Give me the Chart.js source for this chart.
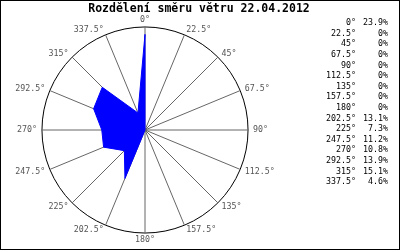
<!DOCTYPE html>
<html>
<head>
<meta charset="utf-8">
<script src="https://cdn.jsdelivr.net/npm/chart.js@4/dist/chart.umd.min.js"></script>
<style>
  html, body { margin: 0; padding: 0; background: #fff; }
  #wrap { width: 400px; height: 250px; position: relative; }
</style>
</head>
<body>
<div id="wrap"><canvas id="c" width="400" height="250"></canvas></div>
<script>
const titleText = 'Rozdělení směru větru 22.04.2012';
const directions = ['0°', '22.5°', '45°', '67.5°', '90°', '112.5°', '135°', '157.5°',
                    '180°', '202.5°', '225°', '247.5°', '270°', '292.5°', '315°', '337.5°'];
const percents = [23.9, 0, 0, 0, 0, 0, 0, 0, 0, 13.1, 7.3, 11.2, 10.8, 13.9, 15.1, 4.6];
const scaleMax = 25.75;

const monoFont = 'DejaVu Sans Mono';
const labelFontSize = 8.3;
const labelPad = 5;

const framePlugin = {
  id: 'frame',
  afterDraw(chart) {
    const ctx = chart.ctx;
    ctx.save();
    ctx.strokeStyle = '#000';
    ctx.lineWidth = 1;
    ctx.strokeRect(0.5, 0.5, chart.width - 1, chart.height - 1);
    ctx.fillStyle = '#000';
    ctx.font = 'bold 11.5px "' + monoFont + '"';
    ctx.textAlign = 'center';
    ctx.textBaseline = 'middle';
    ctx.fillText(titleText, 199, 9);
    ctx.restore();
  }
};

const tablePlugin = {
  id: 'sideTable',
  afterDraw(chart) {
    const ctx = chart.ctx;
    const labels = chart.data.labels;
    const vals = chart.data.datasets[0].data;
    ctx.save();
    ctx.font = labelFontSize + 'px "' + monoFont + '"';
    ctx.fillStyle = '#000';
    ctx.textBaseline = 'middle';
    const labelRight = 356, valRight = 388, y0 = 23, step = 10.6;
    labels.forEach((lab, i) => {
      const y = y0 + i * step;
      ctx.textAlign = 'right';
      ctx.fillText(lab, labelRight, y);
      ctx.fillText(vals[i] + '%', valRight, y);
    });
    ctx.restore();
  }
};

// centre each direction label vertically on its spoke extension
function centreLabels(scale) {
  const items = scale._pointLabelItems;
  if (!items) return;
  const lh = labelFontSize * 1.2;
  items.forEach((it, i) => {
    const extra = it.textAlign === 'center' ? 2 : 0;
    const p = scale.getPointPosition(i, scale.drawingArea + labelPad + extra);
    const w = it.right - it.left;
    it.x = p.x;
    it.y = p.y - lh / 2;
    it.top = it.y;
    it.bottom = it.y + lh;
    if (it.textAlign === 'center') { it.left = p.x - w / 2; it.right = p.x + w / 2; }
    else if (it.textAlign === 'right') { it.right = p.x; it.left = p.x - w; }
    else { it.left = p.x; it.right = p.x + w; }
  });
}

new Chart(document.getElementById('c'), {
  type: 'radar',
  data: {
    labels: directions,
    datasets: [{
      data: percents,
      backgroundColor: '#0000ff',
      borderColor: '#0000ff',
      borderWidth: 1,
      pointRadius: 0,
      fill: true,
      tension: 0
    }]
  },
  options: {
    responsive: false,
    maintainAspectRatio: false,
    animation: false,
    layout: { padding: { left: 0, right: 110, top: 12, bottom: 2 } },
    plugins: {
      legend: { display: false },
      tooltip: { enabled: false },
      title: { display: false }
    },
    scales: {
      r: {
        min: 0,
        max: scaleMax,
        ticks: { display: false, stepSize: scaleMax },
        grid: { circular: true, color: '#000', lineWidth: 1 },
        angleLines: { color: '#666', lineWidth: 1 },
        pointLabels: {
          color: '#555',
          padding: labelPad,
          font: { family: monoFont, size: labelFontSize, lineHeight: 1.2 }
        },
        afterFit: centreLabels
      }
    }
  },
  plugins: [framePlugin, tablePlugin]
});
</script>
</body>
</html>
